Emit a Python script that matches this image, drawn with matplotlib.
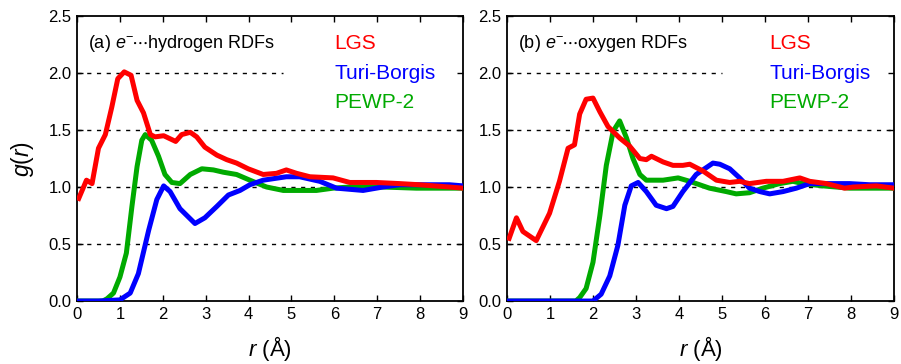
import matplotlib.pyplot as plt
from matplotlib.ticker import FormatStrFormatter

plt.rcParams['font.family'] = 'Liberation Sans'
plt.rcParams['mathtext.fontset'] = 'custom'
plt.rcParams['mathtext.rm'] = 'Liberation Sans'
plt.rcParams['mathtext.it'] = 'Liberation Sans:italic'

# (a) e- ... hydrogen
h_lgs_r = [0.04, 0.22, 0.35, 0.5, 0.66, 0.81, 0.95, 1.1, 1.26, 1.40, 1.55, 1.71, 1.82, 2.02, 2.30, 2.44,
           2.64, 2.79, 2.98, 3.26, 3.49, 3.72, 3.99, 4.34, 4.65, 4.88, 5.12, 5.43, 5.97, 6.36, 6.98,
           7.52, 7.98, 8.68, 9.0]
h_lgs_g = [0.90, 1.06, 1.03, 1.34, 1.46, 1.70, 1.95, 2.01, 1.98, 1.76, 1.65, 1.46, 1.44, 1.45, 1.40, 1.46,
           1.48, 1.44, 1.35, 1.28, 1.24, 1.21, 1.16, 1.11, 1.12, 1.15, 1.12, 1.09, 1.08, 1.04, 1.04,
           1.03, 1.02, 1.00, 0.99]
h_tb_r = [0.0, 0.5, 1.0, 1.24, 1.43, 1.67, 1.86, 2.02, 2.17, 2.40, 2.75, 2.98, 3.26, 3.53, 3.80, 4.03,
          4.34, 4.88, 5.19, 5.66, 6.05, 6.36, 6.67, 7.13, 7.52, 8.14, 8.68, 9.0]
h_tb_g = [0.0, 0.0, 0.01, 0.07, 0.24, 0.62, 0.89, 1.01, 0.96, 0.81, 0.68, 0.73, 0.83, 0.93, 0.97, 1.02,
          1.06, 1.09, 1.09, 1.05, 0.99, 0.98, 0.97, 1.00, 1.02, 1.02, 1.02, 1.01]
h_pw_r = [0.0, 0.6, 0.70, 0.85, 1.0, 1.15, 1.28, 1.40, 1.51, 1.59, 1.74, 1.90, 2.05, 2.21, 2.40, 2.64,
          2.91, 3.18, 3.41, 3.72, 4.03, 4.42, 4.81, 5.19, 5.58, 5.97, 6.36, 7.13, 7.91, 8.68, 9.0]
h_pw_g = [0.0, 0.0, 0.02, 0.07, 0.21, 0.42, 0.83, 1.18, 1.41, 1.46, 1.41, 1.27, 1.11, 1.04, 1.03, 1.11,
          1.16, 1.15, 1.13, 1.11, 1.06, 1.00, 0.97, 0.97, 0.97, 0.99, 1.00, 1.00, 0.99, 0.99, 0.99]

# (b) e- ... oxygen
o_lgs_r = [0.05, 0.22, 0.37, 0.68, 0.99, 1.22, 1.42, 1.57, 1.69, 1.84, 2.0, 2.16, 2.35, 2.62, 2.85, 3.09,
           3.24, 3.36, 3.63, 3.86, 4.09, 4.25, 4.56, 4.87, 5.18, 5.41, 5.64, 6.03, 6.42, 6.81, 7.04,
           7.43, 7.85, 8.05, 8.59, 9.0]
o_lgs_g = [0.55, 0.73, 0.61, 0.53, 0.77, 1.05, 1.34, 1.37, 1.64, 1.77, 1.78, 1.66, 1.53, 1.43, 1.36, 1.25,
           1.24, 1.27, 1.22, 1.19, 1.19, 1.20, 1.14, 1.06, 1.04, 1.05, 1.03, 1.05, 1.05, 1.08, 1.05,
           1.03, 0.99, 1.00, 1.01, 0.99]
o_tb_r = [0.0, 1.9, 2.0, 2.19, 2.39, 2.58, 2.74, 2.89, 3.05, 3.24, 3.47, 3.71, 3.86, 4.09, 4.40, 4.79,
          4.95, 5.18, 5.41, 5.64, 5.88, 6.11, 6.42, 6.73, 7.04, 7.58, 7.97, 8.43, 9.0]
o_tb_g = [0.0, 0.0, 0.00, 0.06, 0.22, 0.49, 0.84, 1.01, 1.04, 0.96, 0.84, 0.81, 0.83, 0.96, 1.11, 1.21,
          1.20, 1.16, 1.08, 0.99, 0.96, 0.94, 0.96, 0.99, 1.03, 1.03, 1.03, 1.02, 1.02]
o_pw_r = [0.0, 1.6, 1.69, 1.84, 2.0, 2.16, 2.31, 2.47, 2.62, 2.78, 2.93, 3.09, 3.24, 3.63, 3.98, 4.25,
          4.71, 5.10, 5.33, 5.64, 5.95, 6.34, 6.65, 6.88, 7.35, 7.97, 9.0]
o_pw_g = [0.0, 0.0, 0.03, 0.11, 0.34, 0.75, 1.19, 1.49, 1.58, 1.43, 1.25, 1.11, 1.06, 1.06, 1.08, 1.05,
          0.99, 0.96, 0.94, 0.95, 0.99, 1.03, 1.05, 1.03, 1.01, 0.99, 0.99]

labels = ['LGS', 'Turi-Borgis', 'PEWP-2']
colors = ['#ff0000', '#0000ff', '#00aa00']

fig = plt.figure(figsize=(9.01, 3.64), dpi=100)
ax1 = fig.add_axes([0.0855, 0.173, 0.4284, 0.783])
ax2 = fig.add_axes([0.5627, 0.173, 0.4295, 0.783])

panels = [
    (ax1, r'(a) $e^{-}\!\cdots$hydrogen RDFs', 4.8,
     [(h_lgs_r, h_lgs_g), (h_tb_r, h_tb_g), (h_pw_r, h_pw_g)], 6.0),
    (ax2, r'(b) $e^{-}\!\cdots$oxygen RDFs', 5.0,
     [(o_lgs_r, o_lgs_g), (o_tb_r, o_tb_g), (o_pw_r, o_pw_g)], 6.1),
]

for ax, title, gx, series, lx in panels:
    for yv in [0.5, 1.0, 1.5]:
        ax.axhline(yv, color='black', linestyle=(0, (3, 4)), linewidth=1, zorder=1)
    ax.plot([0, gx], [2.0, 2.0], color='black', linestyle=(0, (3, 4)), linewidth=1, zorder=1)
    # LGS drawn last so it sits on top
    for (r, g), c in list(zip(series, colors))[::-1]:
        ax.plot(r, g, color=c, linewidth=3.6, solid_joinstyle='round', zorder=3)
    for (lab, c, ly) in zip(labels, colors, [2.26, 2.0, 1.74]):
        ax.text(lx, ly, lab, color=c, fontsize=15, va='center', ha='left')
    ax.text(0.25, 2.26, title, fontsize=13, va='center', ha='left')

    ax.set_xlim(0, 9)
    ax.set_ylim(0, 2.5)
    ax.set_xticks(range(0, 10))
    ax.set_yticks([0, 0.5, 1.0, 1.5, 2.0, 2.5])
    ax.yaxis.set_major_formatter(FormatStrFormatter('%.1f'))
    ax.tick_params(direction='in', top=True, right=True, labelsize=12, length=4, width=1, pad=4)
    for s in ax.spines.values():
        s.set_linewidth(1.3)
    ax.set_xlabel(r'$r$ (Å)', fontsize=16, labelpad=9)

ax1.set_ylabel(r'$g$($r$)', fontsize=16.5, labelpad=9)

plt.savefig('out.png', dpi=100)
